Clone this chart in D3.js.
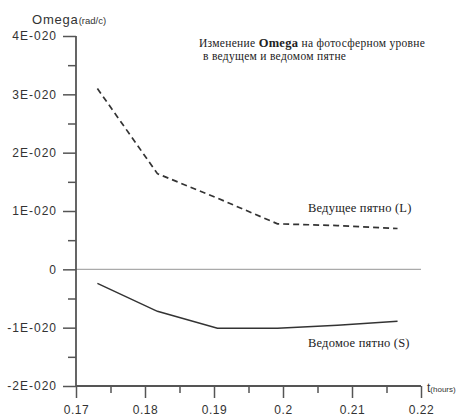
<!DOCTYPE html>
<html><head><meta charset="utf-8">
<script src="https://cdn.jsdelivr.net/npm/d3@7"></script>
<style>body{margin:0;background:#fff}svg{display:block}</style>
</head><body>
<svg id="c" width="457" height="419"></svg>
<script>
const tValues = [0.1731, 0.1818, 0.1905, 0.1992, 0.2079, 0.2166];
const leadingL = [3.10e-20, 1.64e-20, 1.22e-20, 0.78e-20, 0.75e-20, 0.70e-20];
const followingS = [-0.24e-20, -0.72e-20, -1.01e-20, -1.01e-20, -0.96e-20, -0.89e-20];
const xTicks = [0.17, 0.18, 0.19, 0.2, 0.21, 0.22];
const yTicks = [4e-20, 3e-20, 2e-20, 1e-20, 0, -1e-20, -2e-20];
const yTickLabels = ["4E-020", "3E-020", "2E-020", "1E-020", "0", "-1E-020", "-2E-020"];

const svg = d3.select("#c");
const x = d3.scaleLinear().domain([0.17, 0.22]).range([76, 421]);
const y = d3.scaleLinear().domain([-2e-20, 4e-20]).range([386, 36]);
const axisColor = "#555";
const sans = "'Liberation Sans', Arial, sans-serif";
const serif = "'Liberation Serif', 'Times New Roman', serif";

// zero line
svg.append("line").attr("x1", x(0.17)).attr("x2", x(0.22)).attr("y1", y(0)).attr("y2", y(0))
  .attr("stroke", "#aaa").attr("stroke-width", 1.2);

// y axis
const yAxis = d3.axisLeft(y).tickValues(yTicks).tickSize(13)
  .tickFormat((d, i) => yTickLabels[i]).tickPadding(6);
const gy = svg.append("g").attr("transform", `translate(${x(0.17)},0)`).call(yAxis);
const yMinor = d3.axisLeft(y).tickValues(d3.range(-1.5e-20, 4e-20, 1e-20)).tickSize(8).tickFormat("");
const gym = svg.append("g").attr("transform", `translate(${x(0.17)},0)`).call(yMinor);
gym.select(".domain").remove();

// x axis
const xAxis = d3.axisBottom(x).tickValues(xTicks).tickSize(12)
  .tickFormat(d => d3.format("")(+d.toFixed(2))).tickPadding(7);
const gx = svg.append("g").attr("transform", `translate(0,${y(-2e-20)})`).call(xAxis);
const xMinor = d3.axisBottom(x).tickValues([0.175, 0.185, 0.195, 0.205, 0.215]).tickSize(7).tickFormat("");
const gxm = svg.append("g").attr("transform", `translate(0,${y(-2e-20)})`).call(xMinor);
gxm.select(".domain").remove();

[gy, gym, gx, gxm].forEach(g => {
  g.selectAll(".domain").attr("stroke", axisColor).attr("stroke-width", 1.8);
  g.selectAll(".tick line").attr("stroke", axisColor).attr("stroke-width", 1.5);
  g.selectAll(".tick text").attr("fill", "#333").style("font-family", sans).style("font-size", "12px")
    .style("letter-spacing", "1px");
});
gx.selectAll(".tick text").style("letter-spacing", "0.6px");
gy.select(".domain").attr("d", `M0,${y(4e-20)}V${y(-2e-20)}`);
gx.select(".domain").attr("d", `M${x(0.17)},0H${x(0.22)}`);

// lines
const line = d3.line().x(d => x(d[0])).y(d => y(d[1]));
svg.append("path").datum(d3.zip(tValues, leadingL)).attr("d", line)
  .attr("fill", "none").attr("stroke", "#333").attr("stroke-width", 1.7).attr("stroke-dasharray", "6,4");
svg.append("path").datum(d3.zip(tValues, followingS)).attr("d", line)
  .attr("fill", "none").attr("stroke", "#333").attr("stroke-width", 1.5);

// axis titles
const yt = svg.append("text").attr("x", 32).attr("y", 24).attr("fill", "#333").style("font-family", sans);
yt.append("tspan").text("Omega").style("font-size", "13px").style("letter-spacing", "0.8px");
yt.append("tspan").text("(rad/c)").style("font-size", "9.5px");
const xt = svg.append("text").attr("x", 427).attr("y", 392).attr("fill", "#333").style("font-family", sans);
xt.append("tspan").text("t").style("font-size", "12px");
xt.append("tspan").text("(hours)").style("font-size", "8px");

// chart title
const t1 = svg.append("text").attr("x", 199).attr("y", 47).attr("fill", "#222")
  .style("font-family", serif).style("font-size", "11.5px").style("letter-spacing", "0.3px");
t1.append("tspan").text("Изменение ");
t1.append("tspan").text("Omega").style("font-weight", "bold").style("font-size", "12.5px");
t1.append("tspan").text(" на фотосферном уровне");
svg.append("text").attr("x", 203).attr("y", 60).attr("fill", "#222")
  .style("font-family", serif).style("font-size", "11.5px").style("letter-spacing", "0.3px")
  .text("в ведущем и ведомом пятне");

// series labels
svg.append("text").attr("x", 308).attr("y", 212).attr("fill", "#222")
  .style("font-family", serif).style("font-size", "12.5px").style("letter-spacing", "0.2px").text("Ведущее пятно (L)");
svg.append("text").attr("x", 308).attr("y", 347).attr("fill", "#222")
  .style("font-family", serif).style("font-size", "12.5px").style("letter-spacing", "0.2px").text("Ведомое пятно (S)");
</script>
</body></html>
